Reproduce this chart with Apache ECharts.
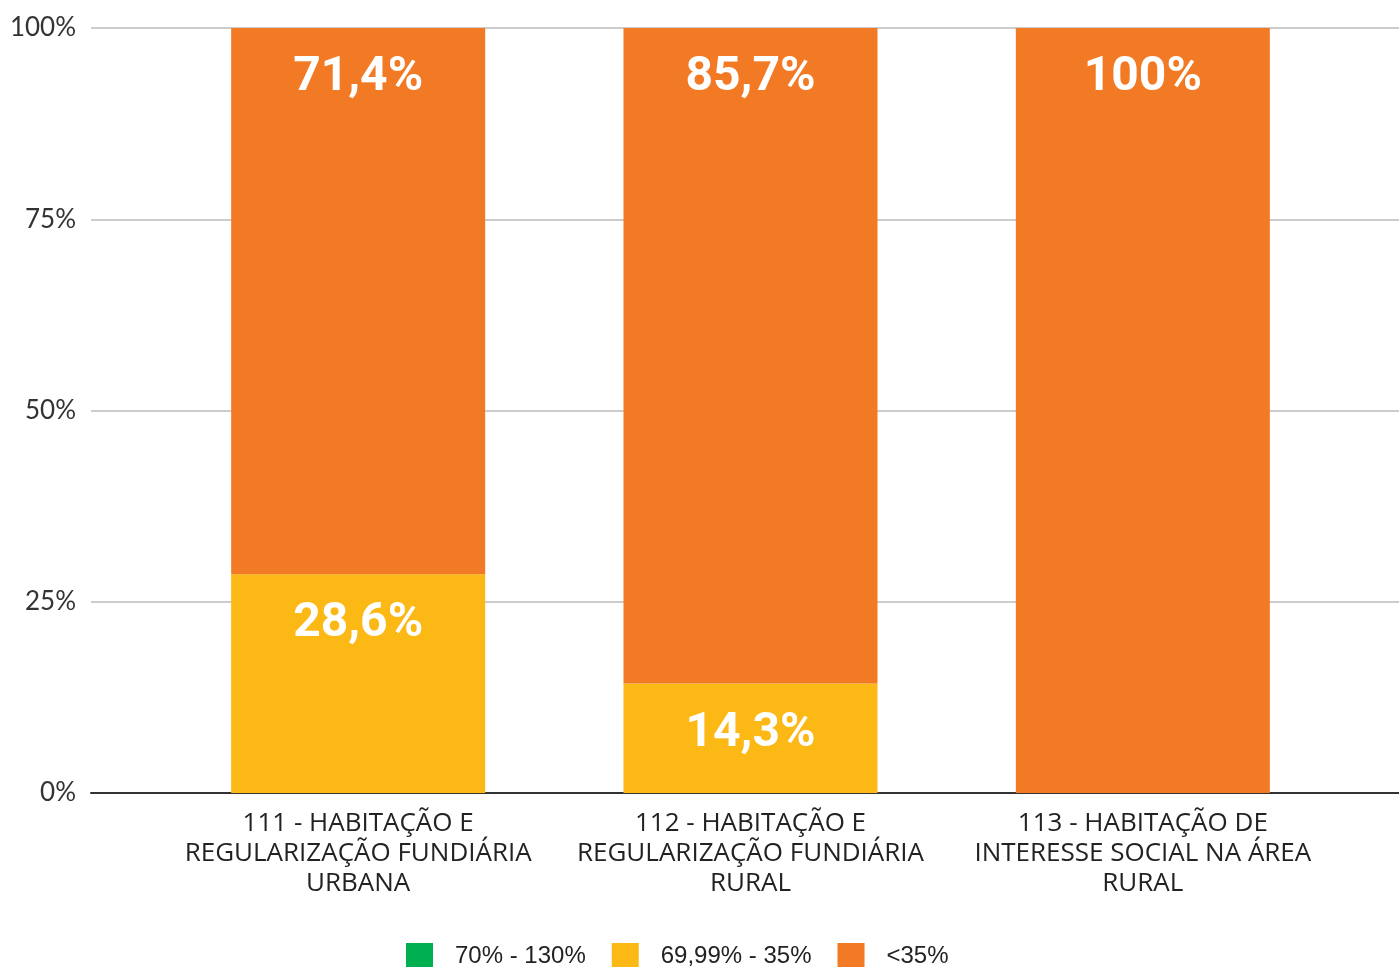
<!DOCTYPE html>
<html>
<head>
<meta charset="utf-8">
<script src="https://cdn.jsdelivr.net/npm/echarts@6/dist/echarts.min.js"></script>
<style>
  html, body { margin: 0; padding: 0; background: #fff; }
  #chart { width: 1399px; height: 967px; }
</style>
</head>
<body>
<div id="chart"></div>
<script>
var categories = [
    "111 - HABITAÇÃO E\nREGULARIZAÇÃO FUNDIÁRIA\nURBANA",
    "112 - HABITAÇÃO E\nREGULARIZAÇÃO FUNDIÁRIA\nRURAL",
    "113 - HABITAÇÃO DE\nINTERESSE SOCIAL NA ÁREA\nRURAL"
];
var seriesNames = ["70% - 130%", "69,99% - 35%", "<35%"];
var greenValues = [0, 0, 0];
var yellowValues = [28.6, 14.3, 0];
var orangeValues = [71.4, 85.7, 100];
var yTicks = [0, 25, 50, 75, 100];

var colors = ["#00B050", "#FCB814", "#F27A24"];

var chart = echarts.init(document.getElementById("chart"));

// rótulo com vírgula decimal
function fmtLabel(p) {
    if (!p.value) return "";
    if (p.value === 100) return "100%";
    return p.value.toFixed(1).replace(".", ",") + "%";
}

function makeSeries(name, data, color) {
    return {
        name: name,
        type: "bar",
        stack: "total",
        xAxisIndex: 1,
        yAxisIndex: 1,
        barWidth: 254,
        data: data,
        itemStyle: { color: color },
        label: {
            show: true,
            position: "insideTop",
            distance: 26,
            color: "#fff",
            fontFamily: "Roboto",
            fontWeight: "bold",
            fontSize: 48,
            formatter: fmtLabel
        }
    };
}

var option = {
    animation: false,
    legend: {
        left: 406,
        top: 943,
        padding: 0,
        itemWidth: 27,
        itemHeight: 27,
        itemGap: 26,
        icon: "rect",
        textStyle: {
            fontFamily: "Liberation Sans",
            fontSize: 24,
            color: "#222",
            padding: [0, 0, 0, 17]
        },
        data: seriesNames
    },
    grid: [
        { left: 91, right: 0, top: 28, bottom: 174 },
        { left: 162, right: 60, top: 28, bottom: 174 }
    ],
    xAxis: [
        {
            type: "category",
            gridIndex: 0,
            data: [""],
            axisLine: { lineStyle: { color: "#333", width: 2 } },
            axisTick: { show: false },
            axisLabel: { show: false }
        },
        {
            type: "category",
            gridIndex: 1,
            data: categories,
            axisLine: { show: false },
            axisTick: { show: false },
            axisLabel: {
                interval: 0,
                margin: 16,
                color: "#222",
                fontFamily: "Open Sans",
                fontSize: 26,
                lineHeight: 30
            }
        }
    ],
    yAxis: [
        {
            type: "value",
            gridIndex: 0,
            min: yTicks[0],
            max: yTicks[yTicks.length - 1],
            interval: 25,
            axisLine: { show: false },
            axisTick: { show: false },
            splitLine: { lineStyle: { color: "#cccccc", width: 2 } },
            axisLabel: {
                margin: 15,
                color: "#333",
                fontFamily: "Lato",
                fontSize: 26,
                formatter: "{value}%"
            }
        },
        {
            type: "value",
            gridIndex: 1,
            min: 0,
            max: 100,
            show: false
        }
    ],
    series: [
        makeSeries(seriesNames[0], greenValues, colors[0]),
        makeSeries(seriesNames[1], yellowValues, colors[1]),
        makeSeries(seriesNames[2], orangeValues, colors[2])
    ]
};

chart.setOption(option);
</script>
</body>
</html>
